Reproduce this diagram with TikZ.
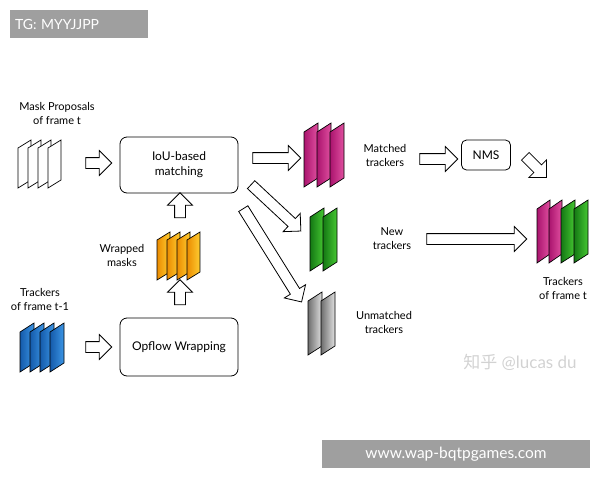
\documentclass[tikz,border=0pt]{standalone}
\usepackage{fontspec}
\setmainfont{Lato}
\newfontfamily\cjk{Noto Sans CJK SC}
\usetikzlibrary{shapes.arrows}
\newcommand\mypanel[7]{% x, ybottom, w, h, skew, dark, light
  \draw[left color=#6,right color=#7,line width=0.7pt] (#1,#2) -- (#1,#2-#4) -- (#1+#3,#2-#4-#5) -- (#1+#3,#2-#5) -- cycle;}
\definecolor{mag}{RGB}{170,20,110}\definecolor{magl}{RGB}{225,80,160}
\definecolor{grn}{RGB}{20,120,20}\definecolor{grnl}{RGB}{70,200,50}
\definecolor{blu}{RGB}{20,90,170}\definecolor{blul}{RGB}{60,150,230}
\definecolor{org}{RGB}{235,140,0}\definecolor{orgl}{RGB}{255,205,50}
\definecolor{gr1}{RGB}{110,110,110}\definecolor{gr2}{RGB}{225,225,225}
\begin{document}
\begin{tikzpicture}[x=1pt,y=-1pt,
  lbl/.style={font=\fontsize{11}{14}\selectfont,align=center,inner sep=0},
  box/.style={draw,rounded corners=7pt,line width=0.8pt,font=\fontsize{12}{15}\selectfont,align=center},
  harrow/.style={draw,single arrow,line width=0.8pt,fill=white,minimum width=24pt,inner xsep=0pt,inner ysep=5pt,single arrow head indent=0pt}]
\useasboundingbox (0,0) rectangle (600,480);
\node[fill=gray!75,text=white,minimum width=138pt,minimum height=28pt,font=\fontsize{14}{16}\selectfont,text width=128pt,align=left] (tg) at (79,24) {TG: MYYJJPP};
\node[fill=gray!75,text=white,minimum width=268pt,minimum height=28pt,font=\fontsize{15.5}{17}\selectfont] (ban) at (456,454) {www.wap-bqtpgames.com};
% labels
\node[lbl] (mp) at (57,113) {Mask Proposals\\of frame t};
\node[lbl] (tr) at (40,299) {Trackers\\of frame t-1};
\node[lbl] (wm) at (122,255) {Wrapped\\masks};
\node[lbl] (mt) at (385,155) {Matched\\trackers};
\node[lbl] (nt) at (392,239) {New\\trackers};
\node[lbl] (ut) at (384,322) {Unmatched\\trackers};
\node[lbl] (tf) at (563,288) {Trackers\\of frame t};
\node[box,minimum width=118pt,minimum height=56pt] (iou) at (179,165) {IoU-based\\matching};
\node[box,minimum width=118pt,minimum height=58pt] (op) at (179,347) {Opflow Wrapping};
\node[box,minimum width=49pt,minimum height=30pt,rounded corners=5pt] (nms) at (486,155) {NMS};
\node[font=\fontsize{17}{19}\selectfont,text=gray!35] (wmk) at (520,362) {{\cjk 知乎} @lucas du};
% panels
\foreach \i in {0,1,2,3} \mypanel{18+\i*10}{188}{13}{40}{8}{white}{white};
\foreach \i in {0,1,2,3} \mypanel{20+\i*10}{372}{14}{40}{9}{blu}{blul};
\foreach \i in {0,1,2,3} \mypanel{157+\i*10}{280}{13}{40}{8}{org}{orgl};
\foreach \i in {0,1,2} \mypanel{304+\i*13}{187}{14}{55}{9}{mag}{magl};
\foreach \i in {0,1} \mypanel{310+\i*13}{271}{14}{54}{9}{grn}{grnl};
\foreach \i in {0,1} \mypanel{308+\i*13}{355}{14}{54}{9}{gr1}{gr2};
\foreach \i in {0,1} \mypanel{537+\i*12}{263}{13}{54}{9}{mag}{magl};
\foreach \i in {0,1} \mypanel{561+\i*13}{263}{14}{54}{9}{grn}{grnl};
% arrows
\node[harrow,minimum height=26pt] (a1) at (96,163) {};
\node[harrow,minimum height=26pt] (a2) at (96,347) {};
\node[harrow,minimum height=25pt,rotate=90] (a3) at (180,208) {};
\node[harrow,minimum height=25pt,rotate=90] (a4) at (180,295) {};
\node[harrow,minimum height=48pt] (a5) at (274,158) {};
\node[harrow,minimum height=68pt,rotate=-43] (a6) at (274,206) {};
\node[harrow,minimum height=110pt,rotate=-58] (a7) at (271,253) {};
\node[harrow,minimum height=38pt] (a8) at (436,159) {};
\node[harrow,minimum height=30pt,rotate=-45] (a9) at (534,165) {};
\node[harrow,minimum height=100pt] (a10) at (474,239) {};
\end{tikzpicture}
\end{document}
